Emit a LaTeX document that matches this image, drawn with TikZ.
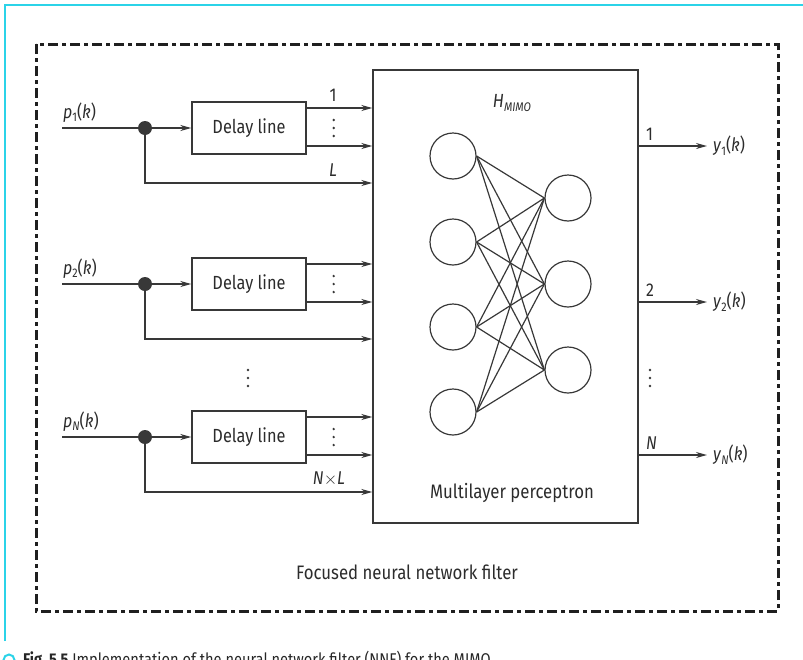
\documentclass[tikz,border=0pt]{standalone}
\usepackage{fontspec}
\setmainfont{Fira Sans}[FakeStretch=0.86]
\usetikzlibrary{arrows.meta}
\definecolor{ln}{HTML}{383838}
\definecolor{tx}{HTML}{2C2C2C}
\definecolor{cy}{HTML}{2BD3E8}
\newcommand{\sbs}[1]{\raisebox{-0.4ex}{\fontsize{12.5}{12.5}\selectfont #1}}
\begin{document}
\begin{tikzpicture}[x=1pt,y=-1pt,
  wire/.style={draw=ln, line width=1.4pt},
  arr/.style={wire, -{Stealth[length=11pt,width=6pt]}},
  dbox/.style={draw=ln, line width=1.4pt, minimum width=114pt, minimum height=52pt, font=\fontsize{19}{21}\selectfont, text=tx, inner sep=0},
  neuron/.style={circle, draw=ln, line width=1.2pt, minimum size=46pt, inner sep=0},
  lbl/.style={font=\fontsize{18.5}{20}\selectfont, text=tx, inner sep=0},
  jdot/.style={circle, fill=ln, minimum size=14pt, inner sep=0},
]
\useasboundingbox (0,0) rectangle (803,659);
% cyan frame
\draw[cy, line width=2.5pt] (5,641) -- (5,5) -- (803,5);
\draw[cy, line width=2pt] (9,660) circle (5.5);
% caption (cut off at the bottom edge, as in the source)
\node[anchor=base west, inner sep=0, font=\fontsize{17}{19}\selectfont, text=black!85] (cap) at (23,665)
  {\textbf{Fig.\ 5.5} Implementation of the neural network filter (NNF) for the MIMO};
% dashed outer box
\draw[black!88, line width=3pt, dash pattern=on 10pt off 4pt on 4pt off 4pt] (36,44) rectangle (778,611);
\node[lbl, font=\fontsize{19.5}{21}\selectfont] (ftitle) at (407,572) {Focused neural network filter};

% MLP box
\node[draw=ln, line width=1.4pt, minimum width=265pt, minimum height=453pt, inner sep=0] (mlp) at (505.5,296.5) {};
\node[lbl, font=\fontsize{19}{21}\selectfont] (H) at (512,103) {\textit{H}\sbs{\textit{MIMO}}};
\node[lbl, font=\fontsize{19.5}{21}\selectfont] (mlpt) at (512,493) {Multilayer perceptron};

% neurons
\foreach \i/\y in {1/156,2/242,3/327,4/412} \node[neuron] (L\i) at (453,\y) {};
\foreach \j/\y in {1/198,2/284,3/370} \node[neuron] (R\j) at (568,\y) {};
\foreach \i in {1,...,4} \foreach \j in {1,2,3} \draw[ln, line width=1.2pt] (L\i.east) -- (R\j.west);

% input channels
\foreach \k/\y in {1/128, 2/284, 3/437} {
  \node[dbox] (d\k) at (249,\y) {Delay line};
  \coordinate (in\k) at (62,\y);
  \node[jdot] (j\k) at (145,\y) {};
  \draw[wire] (in\k) -- (j\k);
  \draw[arr] (j\k) -- (d\k.west);
  \draw[arr] ([yshift=20pt]d\k.east) -- ([yshift=20pt]d\k.east -| mlp.west);
  \draw[arr] ([yshift=-18pt]d\k.east) -- ([yshift=-18pt]d\k.east -| mlp.west);
  \draw[arr] (j\k) |- ([yshift=-55pt]d\k.east -| mlp.west);
  \foreach \dy in {-8,0,8} \fill[ln] ([yshift=\dy pt]d\k.east) ++(27,0) circle (1.3);
}
\node[lbl, anchor=base west] (p1) at (63,118) {\textit{p}\sbs{1}(\textit{k})};
\node[lbl, anchor=base west] (p2) at (63,274) {\textit{p}\sbs{2}(\textit{k})};
\node[lbl, anchor=base west] (pN) at (63,427) {\textit{p}\sbs{\textit{N}}(\textit{k})};
\node[lbl] (one) at (333,95) {1};
\node[lbl] (Ll) at (333,170) {\textit{L}};
\node[lbl] (NL) at (329,479) {\textit{N}$\times$\textit{L}};
\foreach \y in {370,378,386} \fill[ln] (248,\y) circle (1.3);

% outputs
\foreach \k/\y/\lab/\ylab in {1/146/1/1, 2/302/2/2, 3/455/\textit{N}/\textit{N}} {
  \coordinate (o\k) at (707,\y);
  \draw[arr] (mlp.east |- o\k) -- (o\k);
  \node[lbl, anchor=base west] at (646,\y-6) {\lab};
  \node[lbl, anchor=west] (y\k) at (713,\y) {\textit{y}\sbs{\ylab}(\textit{k})};
}
\foreach \y in {370,378,386} \fill[ln] (650,\y) circle (1.3);
\end{tikzpicture}
\end{document}
